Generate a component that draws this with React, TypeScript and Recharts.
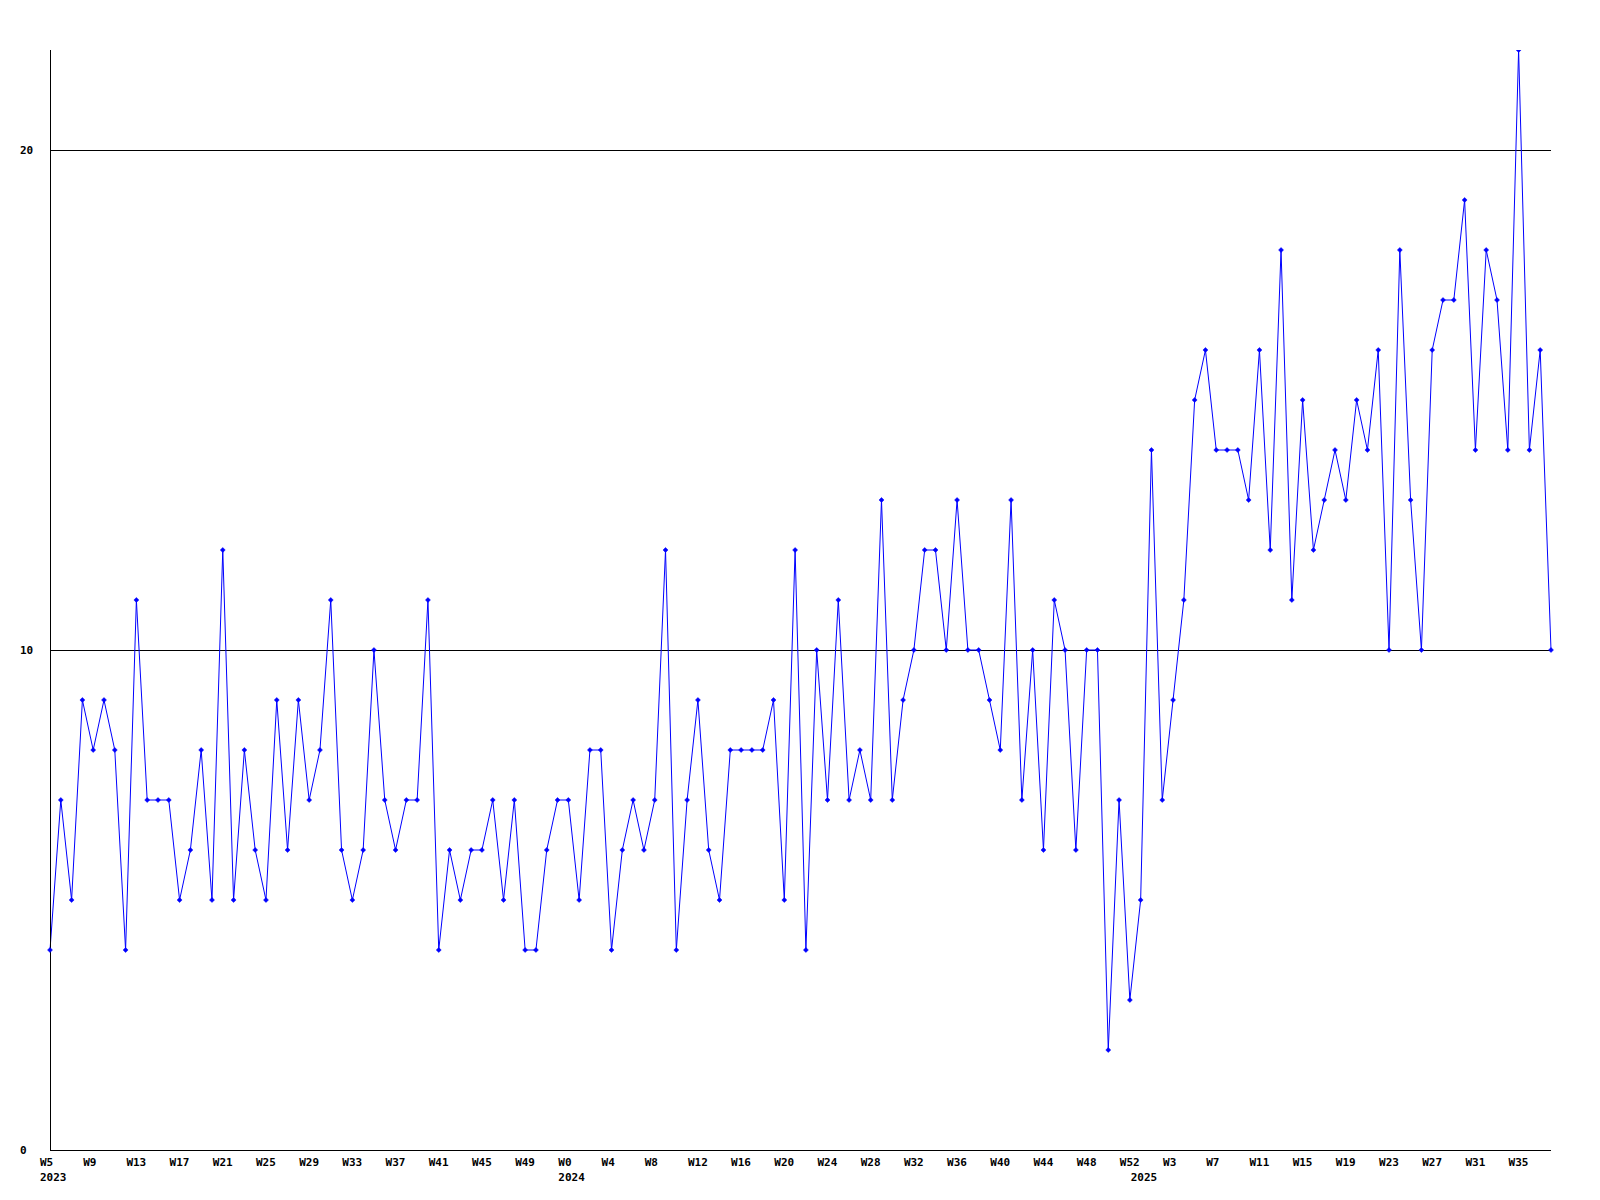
import React from "react";
import { LineChart, Line, XAxis, YAxis, ReferenceLine } from "recharts";

const weeks2023 = [5, 6, 7, 8, 9, 10, 11, 12, 13, 14, 15, 16, 17, 18, 19, 20, 21, 22, 23, 24, 25, 26, 27, 28, 29, 30, 31, 32, 33, 34, 35, 36, 37, 38, 39, 40, 41, 42, 43, 44, 45, 46, 47, 48, 49, 50, 51, 52];
const weeks2024 = [0, 1, 2, 3, 4, 5, 6, 7, 8, 9, 10, 11, 12, 13, 14, 15, 16, 17, 18, 19, 20, 21, 22, 23, 24, 25, 26, 27, 28, 29, 30, 31, 32, 33, 34, 35, 36, 37, 38, 39, 40, 41, 42, 43, 44, 45, 46, 47, 48, 49, 50, 51, 52];
const weeks2025 = [0, 1, 2, 3, 4, 5, 6, 7, 8, 9, 10, 11, 12, 13, 14, 15, 16, 17, 18, 19, 20, 21, 22, 23, 24, 25, 26, 27, 28, 29, 30, 31, 32, 33, 34, 35, 36, 37, 38];

const values = [
  4, 7, 5, 9, 8, 9, 8, 4, 11, 7, 7, 7, 5, 6, 8, 5, 12, 5, 8, 6,
  5, 9, 6, 9, 7, 8, 11, 6, 5, 6, 10, 7, 6, 7, 7, 11, 4, 6, 5, 6,
  6, 7, 5, 7, 4, 4, 6, 7, 7, 5, 8, 8, 4, 6, 7, 6, 7, 12, 4, 7,
  9, 6, 5, 8, 8, 8, 8, 9, 5, 12, 4, 10, 7, 11, 7, 8, 7, 13, 7, 9,
  10, 12, 12, 10, 13, 10, 10, 9, 8, 13, 7, 10, 6, 11, 10, 6, 10, 10, 2, 7,
  3, 5, 14, 7, 9, 11, 15, 16, 14, 14, 14, 13, 16, 12, 18, 11, 15, 12, 13, 14,
  13, 15, 14, 16, 10, 18, 13, 10, 16, 17, 17, 19, 14, 18, 17, 14, 22, 14, 16, 10,
];

const yTicks = [0, 10, 20];
const gridValues = [10, 20];

type Row = { key: string; week: number; year: number; firstOfYear: boolean; value: number };

const rows: Row[] = [];
[
  { year: 2023, weeks: weeks2023 },
  { year: 2024, weeks: weeks2024 },
  { year: 2025, weeks: weeks2025 },
].forEach(({ year, weeks }) => {
  weeks.forEach((w, i) => {
    rows.push({ key: `${year}-W${w}`, week: w, year, firstOfYear: i === 0, value: 0 });
  });
});
rows.forEach((r, i) => {
  r.value = values[i];
});

const FONT = "'DejaVu Sans Mono', 'Liberation Mono', monospace";

const XTick = (props: any) => {
  const { x, y, payload } = props;
  const idx = rows.findIndex((r) => r.key === payload.value);
  if (idx < 0) return <g />;
  const r = rows[idx];
  return (
    <g>
      {idx % 4 === 0 && (
        <text x={x - 10} y={y + 8} textAnchor="start" fontFamily={FONT} fontWeight="bold" fontSize={11} fill="#000">
          {`W${r.week}`}
        </text>
      )}
      {r.firstOfYear && (
        <text x={x - 10} y={y + 23} textAnchor="start" fontFamily={FONT} fontWeight="bold" fontSize={11} fill="#000">
          {String(r.year)}
        </text>
      )}
    </g>
  );
};

const YTick = (props: any) => {
  const { y, payload } = props;
  return (
    <text x={20} y={y + 4} textAnchor="start" fontFamily={FONT} fontWeight="bold" fontSize={11} fill="#000">
      {payload.value}
    </text>
  );
};

const Dot = (props: any) => {
  const { cx, cy } = props;
  if (cx == null || cy == null) return null;
  return (
    <path
      d={`M${cx - 2.5},${cy} L${cx},${cy - 2.5} L${cx + 2.5},${cy} L${cx},${cy + 2.5} Z`}
      fill="#0000ff"
      stroke="#0000ff"
      strokeWidth={0.5}
    />
  );
};

export default function App() {
  return (
    <div style={{ position: "absolute", left: 0, top: 0, width: 1600, height: 1200, background: "#fff" }}>
      <LineChart width={1600} height={1200} data={rows} margin={{ top: 50, right: 49, bottom: 0, left: 0 }}>
        <XAxis
          dataKey="key"
          type="category"
          interval={0}
          height={50}
          tickLine={false}
          axisLine={{ stroke: "#000", strokeWidth: 1, shapeRendering: "crispEdges" }}
          tick={<XTick />}
          padding={{ left: 0, right: 0 }}
        />
        <YAxis
          width={50}
          domain={[0, 22]}
          ticks={yTicks}
          tickLine={false}
          axisLine={{ stroke: "#000", strokeWidth: 1, shapeRendering: "crispEdges" }}
          tick={<YTick />}
          allowDataOverflow
        />
        {gridValues.map((v) => (
          <ReferenceLine
            key={v}
            y={v}
            stroke="#000"
            strokeWidth={1}
            ifOverflow="visible"
            shapeRendering="crispEdges"
          />
        ))}
        <Line
          type="linear"
          dataKey="value"
          stroke="#0000ff"
          strokeWidth={1}
          dot={<Dot />}
          activeDot={false}
          isAnimationActive={false}
        />
      </LineChart>
    </div>
  );
}
